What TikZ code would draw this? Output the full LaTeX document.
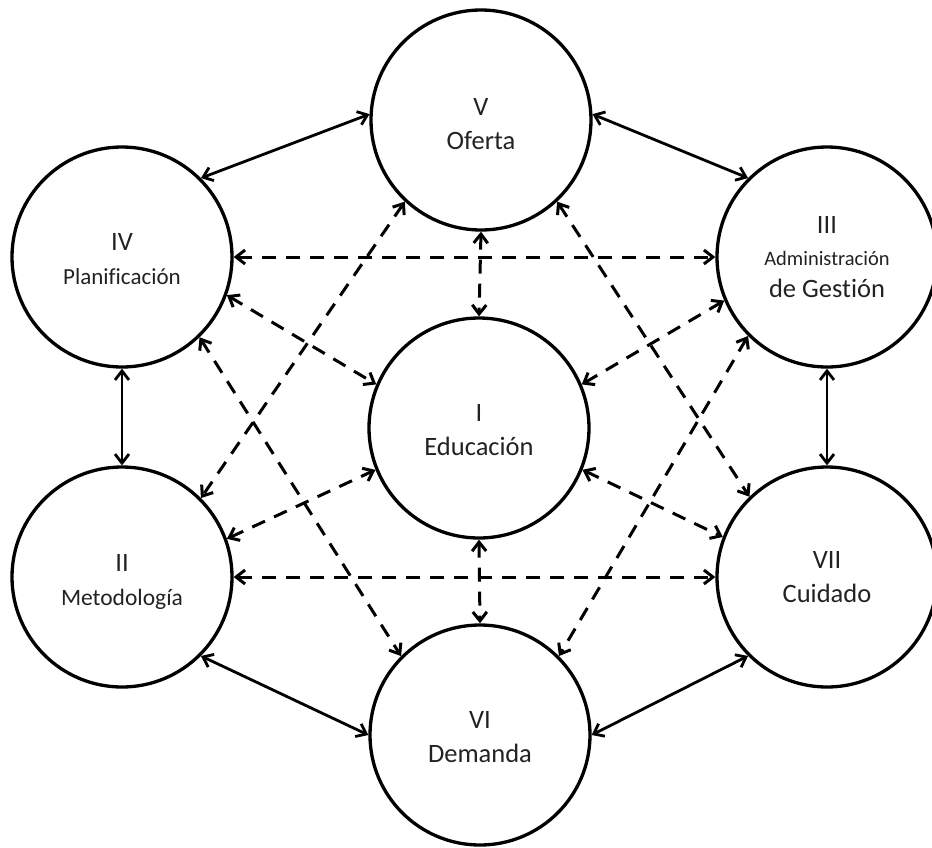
\documentclass[tikz,border=0pt]{standalone}
\usepackage{fontspec}
\setmainfont{Carlito}[Ligatures=NoCommon]
\usetikzlibrary{arrows.meta}
\definecolor{txt}{HTML}{222222}
\newcommand\twolines[3]{\rule{0pt}{#1pt}#2\\#3}
\begin{document}
\begin{tikzpicture}[x=1pt,y=-1pt,
  bub/.style={circle,draw,line width=3.3pt,minimum size=220pt,inner sep=0pt,
    align=center,text=txt,font=\fontsize{26.5}{34}\selectfont},
  barbs/.style={line width=2.8pt,
    {Straight Barb[length=9pt,width=14pt]}-{Straight Barb[length=9pt,width=14pt]}},
  duallink/.style={barbs},
  dashlink/.style={barbs,line width=3pt,dash pattern=on 14pt off 10pt}]
\useasboundingbox (0,0) rectangle (932,847);
\node[bub] (V)   at (481,120) {\twolines{26}{V}{Oferta}};
\node[bub] (IV)  at (122,257) {\twolines{22}{IV}{{\fontsize{23}{34}\selectfont Planificación}}};
\node[bub,font=\fontsize{26.5}{32}\selectfont] (III) at (827,257) {III\\{\fontsize{20.5}{32}\selectfont Administración}\\de Gestión};
\node[bub] (I)   at (479,428) {\twolines{22}{I}{Educación}};
\node[bub] (II)  at (122,577) {\twolines{27}{II}{{\fontsize{23.5}{34}\selectfont Metodología}}};
\node[bub] (VII) at (827,577) {\twolines{18}{VII}{Cuidado}};
\node[bub] (VI)  at (480,735) {\twolines{22}{VI}{Demanda}};
% solid links
\draw[duallink] (IV.45) -- (V.177);
\draw[duallink] (V.3) -- (III.135);
\draw[duallink] (IV.270) -- (II.90);
\draw[duallink] (III.270) -- (VII.90);
\draw[duallink] (II.-45) -- (VI.180);
\draw[duallink] (VI.0) -- (VII.225);
% dashed links
\draw[dashlink] (IV.0) -- (III.180);
\draw[dashlink] (II.0) -- (VII.180);
\draw[dashlink] (V.270) -- (I.90);
\draw[dashlink] (I.270) -- (VI.90);
\draw[dashlink] (IV.-20) -- (I.157);
\draw[dashlink] (I.23) -- (III.203);
\draw[dashlink] (II.20) -- (I.202);
\draw[dashlink] (I.-22) -- (VII.159);
\draw[dashlink] (V.227) -- (II.45);
\draw[dashlink] (V.313) -- (VII.134);
\draw[dashlink] (IV.-46) -- (VI.135);
\draw[dashlink] (III.225) -- (VI.45);
\end{tikzpicture}
\end{document}
